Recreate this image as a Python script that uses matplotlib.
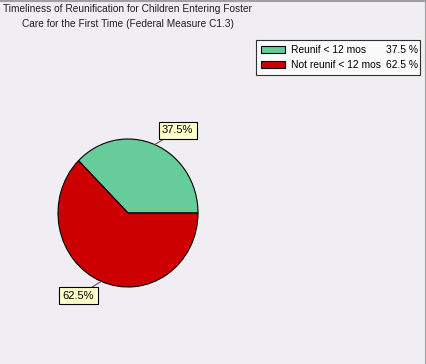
import numpy as np
import matplotlib
matplotlib.use("Agg")
import matplotlib.pyplot as plt
from matplotlib.patches import Patch

plt.rcParams['font.family'] = ['Liberation Sans', 'DejaVu Sans']

categories = ["Reunif < 12 mos", "Not reunif < 12 mos"]
values = [37.5, 62.5]
colors = ["#66CC99", "#CC0000"]
title_lines = ["Timeliness of Reunification for Children Entering Foster",
               "Care for the First Time (Federal Measure C1.3)"]

W, H = 426, 364
bg = "#F0EEF2"
fig = plt.figure(figsize=(W / 100, H / 100), dpi=100, facecolor=bg)

# frame lines (top and right)
fig.add_artist(plt.Line2D([0, 1], [1 - 0.5 / H, 1 - 0.5 / H], color="#A0A0A0", lw=1.5))
fig.add_artist(plt.Line2D([1 - 0.5 / W, 1 - 0.5 / W], [0, 1], color="#A0A0A0", lw=1.5))

# title
fig.text(3 / W, 1 - 9 / H, title_lines[0], fontsize=7.3, va="center", ha="left", color="#222222")
fig.text(22 / W, 1 - 24 / H, title_lines[1], fontsize=7.3, va="center", ha="left", color="#222222")

# pie
cx, cy, rx, ry = 128, 213, 70, 74
ax = fig.add_axes([(cx - rx) / W, (H - cy - ry) / H, 2 * rx / W, 2 * ry / H])
wedges, _ = ax.pie(values, colors=colors, startangle=0, counterclock=True,
                   wedgeprops=dict(edgecolor="black", linewidth=0.8))
ax.set_aspect("auto")
ax.set_xlim(-1, 1)
ax.set_ylim(-1, 1)
ax.axis("off")

# callout labels
start = 0
for v in values:
    mid = np.deg2rad(start + v / 100 * 360 / 2)
    start += v / 100 * 360
    x, y = np.cos(mid), np.sin(mid)
    tx, ty = x * 1.85, y * 1.21
    ax.annotate(f"{v}%", xy=(x, y), xytext=(tx, ty), fontsize=8,
                ha="center", va="center", annotation_clip=False,
                bbox=dict(boxstyle="square,pad=0.3", fc="#FFFFCC", ec="black", lw=0.8),
                arrowprops=dict(arrowstyle="-", color="#555555", lw=0.8,
                                shrinkA=0, shrinkB=0))

# legend
handles = [Patch(facecolor=c, edgecolor="black", linewidth=0.8) for c in colors]
leg = fig.legend(handles, categories, loc="upper left",
                 bbox_to_anchor=(256 / W, 1 - 40 / H - 0.01, 164 / W, 0.01), mode="expand",
                 borderaxespad=0, fontsize=7.4, frameon=True, fancybox=False,
                 handlelength=2.35, handleheight=0.7, handletextpad=0.55,
                 labelspacing=0.5, borderpad=0.5)
leg.get_frame().set_edgecolor("black")
leg.get_frame().set_linewidth(0.8)
leg.get_frame().set_facecolor("white")

fig.canvas.draw()
for i, v in enumerate(values):
    t = leg.get_texts()[i]
    bb = t.get_window_extent()
    ym = (bb.y0 + bb.y1) / 2 / H
    fig.text(418 / W, ym, f"{v} %", fontsize=7.4, ha="right", va="center", zorder=10)

fig.savefig("out.png", dpi=100, facecolor=bg)
